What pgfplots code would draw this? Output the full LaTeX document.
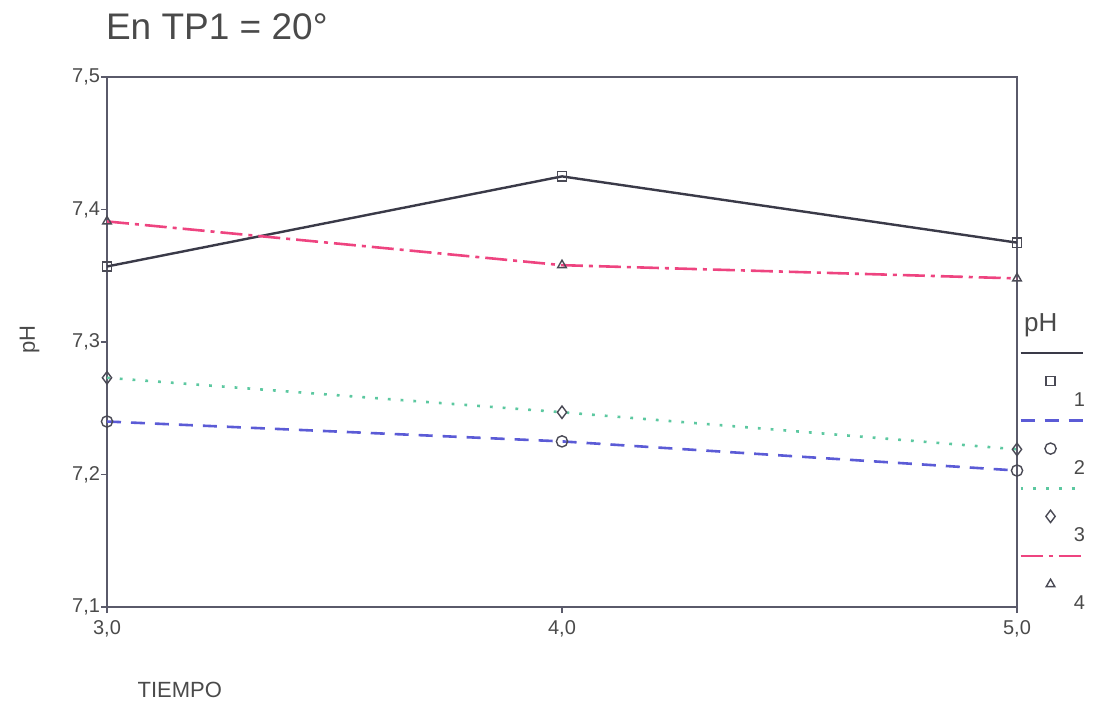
\documentclass[border=0pt]{standalone}
\usepackage{pgfplots}
\pgfplotsset{compat=1.18}
\usepackage{fontspec}
\setmainfont{Liberation Sans}
\definecolor{axc}{HTML}{5A5A6A}
\definecolor{s1}{HTML}{3A3A48}
\definecolor{s2}{HTML}{5B5BD6}
\definecolor{s3}{HTML}{5CC8A0}
\definecolor{s4}{HTML}{EE4480}
\definecolor{txt}{HTML}{4A4A4A}
\definecolor{mk}{HTML}{4A4A55}
\pgfplotstableread{
x y
3 7.357
4 7.425
5 7.375
}\seriesA
\pgfplotstableread{
x y
3 7.240
4 7.225
5 7.203
}\seriesB
\pgfplotstableread{
x y
3 7.273
4 7.247
5 7.219
}\seriesC
\pgfplotstableread{
x y
3 7.391
4 7.358
5 7.348
}\seriesD
\begin{document}
\begin{tikzpicture}
\begin{axis}[
  scale only axis, width=455pt, height=265pt,
  xmin=3, xmax=5, ymin=7.1, ymax=7.5,
  xtick={3,4,5}, ytick={7.1,7.2,7.3,7.4,7.5},
  xticklabel style={/pgf/number format/.cd,assume math mode=true,use comma,fixed,fixed zerofill,precision=1},
  yticklabel style={/pgf/number format/.cd,assume math mode=true,use comma,fixed,fixed zerofill,precision=1,/tikz/.cd,xshift=3pt},
  ticklabel style={font=\fontsize{10}{12}\selectfont, text=txt},
  tick align=outside, xtick pos=bottom, ytick pos=left,
  major tick length=3pt,
  tick style={color=axc, line width=0.6pt},
  axis line style={color=axc, line width=0.9pt},
  title={En TP1 = 20°},
  title style={font=\fontsize{18.5}{22}\selectfont, text=txt, at={(axis description cs:0,1)}, anchor=base west, yshift=13pt, xshift=-4pt},
  xlabel={TIEMPO},
  xlabel style={font=\fontsize{11}{13}\selectfont, text=txt, at={(axis description cs:0.08,-0.157)}, anchor=center},
  ylabel={pH},
  ylabel style={font=\fontsize{11}{13}\selectfont, text=txt, at={(axis description cs:-0.085,0.504)}, anchor=center, rotate=0},
  legend style={at={(axis description cs:1.002,0.49)}, anchor=north west, draw=none, fill=none,
     font=\fontsize{10}{12}\selectfont, text=txt, row sep=13pt, inner xsep=0pt},
  legend cell align=left,
  legend image code/.code={
    \draw[#1,mark=none] (0pt,14pt) -- (31pt,14pt);
    \draw[#1,only marks] plot coordinates {(15pt,0pt)};
  },
  clip=false,
]
\addplot[color=s1, line width=1.2pt, mark=square, mark size=2.3pt, mark options={draw=mk, solid, line width=0.7pt, fill=white}] table[x=x,y=y] {\seriesA};
\addlegendentry{\hspace*{-7pt}\raisebox{-10pt}[\height][0pt]{1}}
\addplot[color=s2, line width=1.3pt, dash pattern=on 7pt off 5pt, mark=o, mark size=2.8pt, mark options={draw=mk, solid, line width=0.7pt, fill=white}] table[x=x,y=y] {\seriesB};
\addlegendentry{\hspace*{-7pt}\raisebox{-10pt}[\height][0pt]{2}}
\addplot[color=s3, line width=1.3pt, dash pattern=on 1.4pt off 5pt, mark=diamond, mark size=3.1pt, mark options={draw=mk, solid, line width=0.7pt, fill=white}] table[x=x,y=y] {\seriesC};
\addlegendentry{\hspace*{-7pt}\raisebox{-10pt}[\height][0pt]{3}}
\addplot[color=s4, line width=1.3pt, dash pattern=on 11pt off 3pt on 2pt off 3pt, mark=triangle, mark size=2.5pt, mark options={draw=mk, solid, line width=0.7pt, fill=white}] table[x=x,y=y] {\seriesD};
\addlegendentry{\hspace*{-7pt}\raisebox{-10pt}[\height][0pt]{4}}
\node[anchor=west, font=\fontsize{13}{15}\selectfont, text=txt] at (axis description cs:1.0,0.532) {pH};
\end{axis}
\pgfresetboundingbox
\path (-53.5pt,-56.5pt) rectangle (494pt,303.5pt);
\end{tikzpicture}
\end{document}
